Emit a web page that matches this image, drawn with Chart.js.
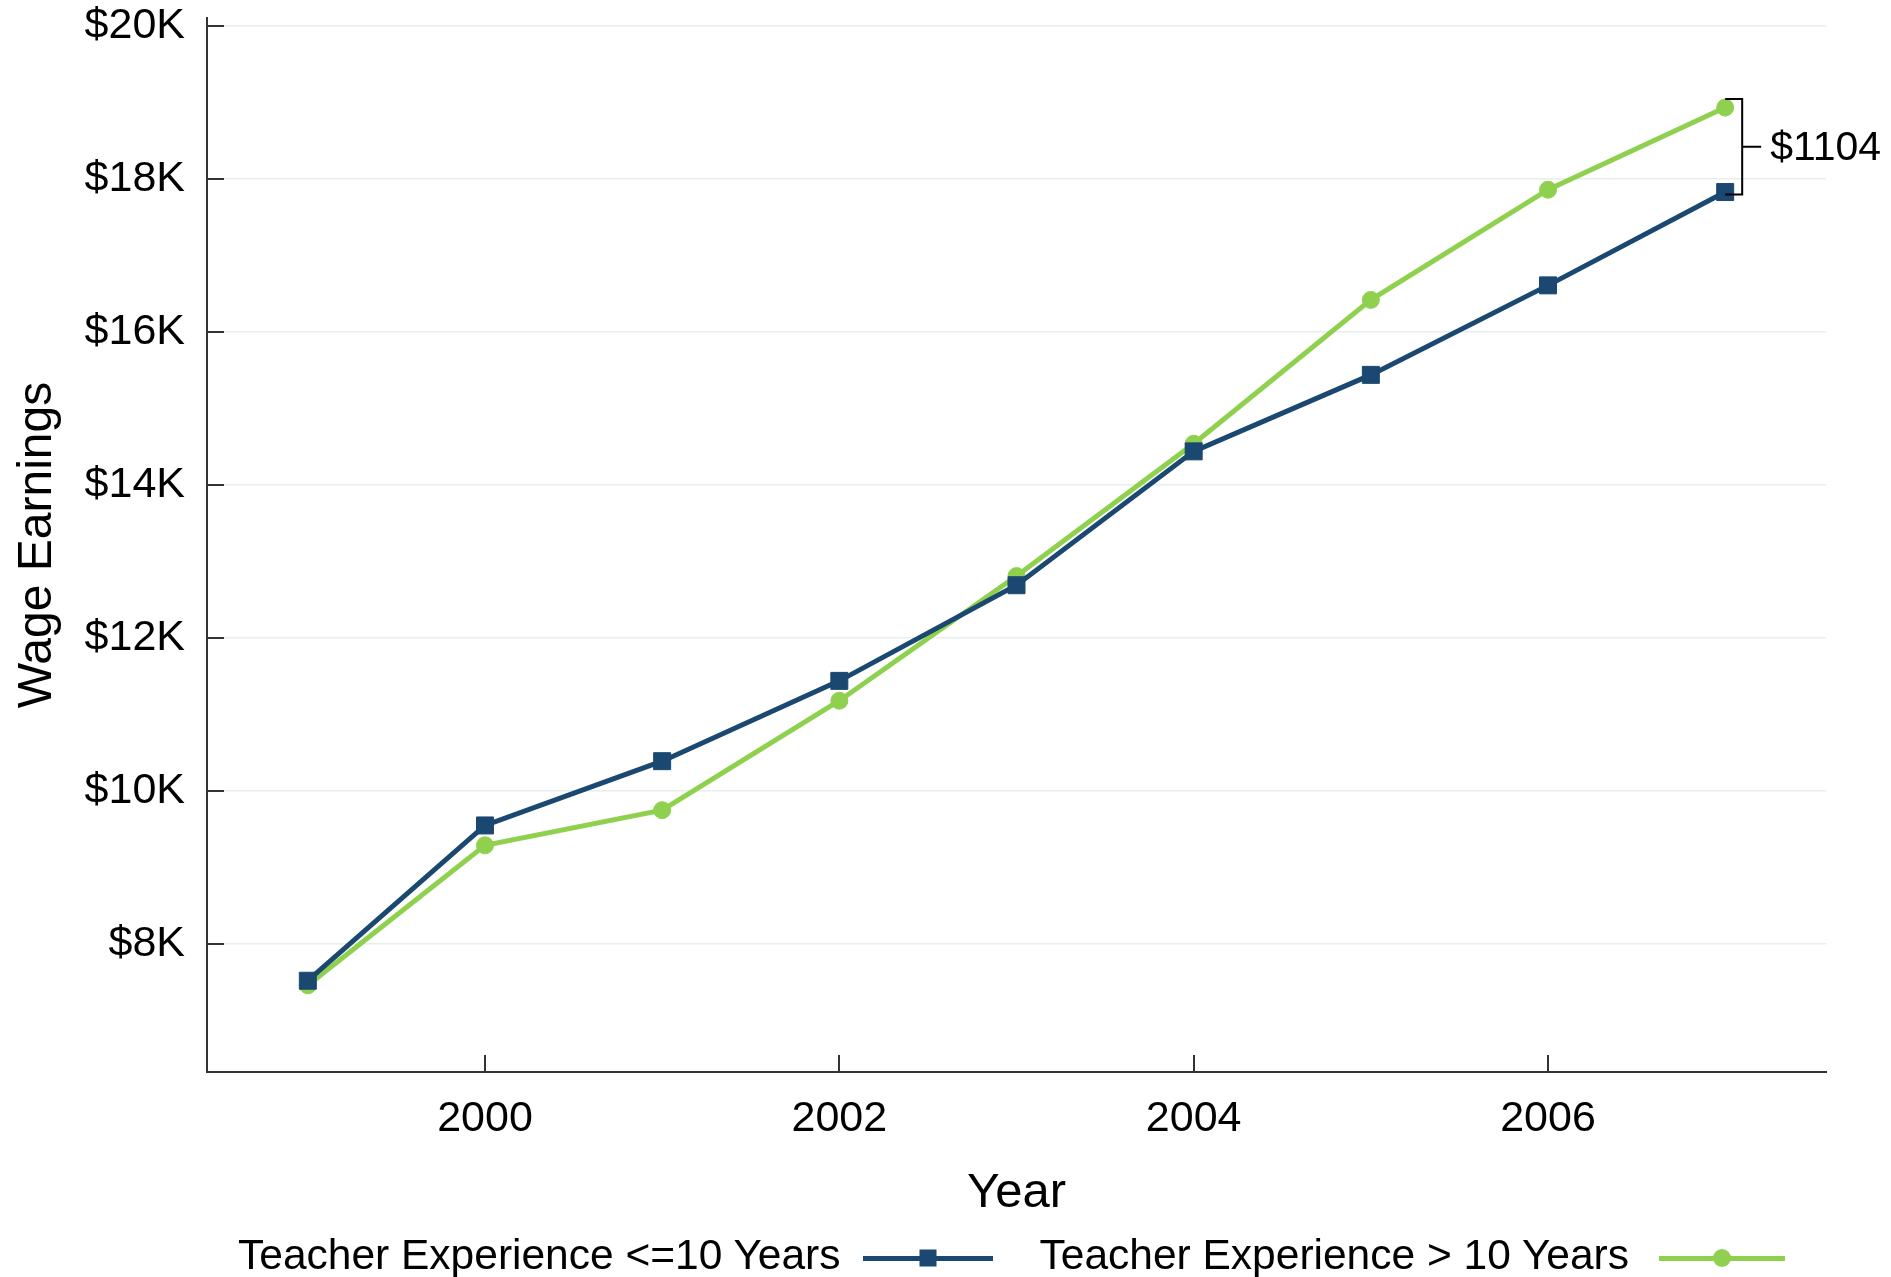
<!DOCTYPE html>
<html>
<head>
<meta charset="utf-8">
<script src="https://cdn.jsdelivr.net/npm/chart.js@4.4.1/dist/chart.umd.min.js"></script>
<style>
  body { margin: 0; background: #fff; }
  #wrap { position: relative; width: 1891px; height: 1277px; overflow: hidden; }
  .legend { position: absolute; left: 238px; top: 1231px; display: flex; align-items: center;
    font-family: "Liberation Sans", Arial, sans-serif; font-size: 42.5px; color: #000; white-space: nowrap; }
  .sample { position: relative; height: 5px; margin-top: 6px; }
  .mark { position: absolute; top: 50%; left: 50%; transform: translate(-50%, -50%); }
</style>
</head>
<body>
<div id="wrap">
  <canvas id="myChart" width="1891" height="1277"></canvas>
  <div class="legend" id="legend"></div>
</div>
<script>
const years = [1999, 2000, 2001, 2002, 2003, 2004, 2005, 2006, 2007];
// wage earnings in dollars
const lowExp = [7520, 9550, 10390, 11440, 12690, 14440, 15440, 16610, 17830];
const highExp = [7460, 9290, 9750, 11180, 12810, 14540, 16420, 17860, 18934];
const seriesNames = ['Teacher Experience <=10 Years', 'Teacher Experience > 10 Years'];
const yTicks = [8000, 10000, 12000, 14000, 16000, 18000, 20000];
const xTicks = [2000, 2002, 2004, 2006];

const blue = '#1b4870';
const green = '#8fd14f';
const font = '"Liberation Sans", Arial, sans-serif';

// little ticks pointing into the plot, plus the gap bracket at the last year
const extras = {
  id: 'extras',
  afterDraw(chart) {
    const ctx = chart.ctx;
    const x = chart.scales.x, y = chart.scales.y;
    ctx.save();
    ctx.strokeStyle = '#333';
    ctx.lineWidth = 2;
    ctx.beginPath();
    yTicks.forEach(v => {
      const py = Math.round(y.getPixelForValue(v));
      ctx.moveTo(x.left, py); ctx.lineTo(x.left + 17, py);
    });
    xTicks.forEach(v => {
      const px = Math.round(x.getPixelForValue(v));
      ctx.moveTo(px, y.bottom); ctx.lineTo(px, y.bottom - 17);
    });
    ctx.stroke();

    const last = years.length - 1;
    const px = x.getPixelForValue(years[last]);
    const top = y.getPixelForValue(highExp[last]) - 8.5;
    const bot = y.getPixelForValue(lowExp[last]) + 2.5;
    const bx = px + 17;
    ctx.strokeStyle = '#000';
    ctx.lineWidth = 2;
    ctx.beginPath();
    ctx.moveTo(px, top); ctx.lineTo(bx, top); ctx.lineTo(bx, bot); ctx.lineTo(px, bot);
    ctx.moveTo(bx, (top + bot) / 2); ctx.lineTo(bx + 19, (top + bot) / 2);
    ctx.stroke();
    ctx.fillStyle = '#000';
    ctx.font = '41px ' + font;
    ctx.textAlign = 'left';
    ctx.textBaseline = 'middle';
    ctx.fillText('$' + Math.round(highExp[last] - lowExp[last]), bx + 28, (top + bot) / 2 + 2);
    ctx.restore();
  }
};

const dataChart = {
  labels: years,
  datasets: [
    {
      label: seriesNames[0],
      data: years.map((yr, i) => ({x: yr, y: lowExp[i]})),
      borderColor: blue,
      backgroundColor: blue,
      borderWidth: 5,
      pointStyle: 'rect',
      pointRadius: 12,
      pointBorderWidth: 1,
    },
    {
      label: seriesNames[1],
      data: years.map((yr, i) => ({x: yr, y: highExp[i]})),
      borderColor: green,
      backgroundColor: green,
      borderWidth: 5,
      pointStyle: 'circle',
      pointRadius: 8.5,
      pointBorderWidth: 1,
    }
  ]
};

function noPad(s) {
  s.paddingTop = 0; s.paddingBottom = 0; s.paddingLeft = 0; s.paddingRight = 0;
}

const config = {
  type: 'line',
  data: dataChart,
  plugins: [extras],
  options: {
    responsive: false,
    animation: false,
    devicePixelRatio: 1,
    layout: { padding: { top: 18, right: 65, bottom: 59, left: 0 } },
    plugins: { legend: { display: false }, tooltip: { enabled: false } },
    scales: {
      x: {
        type: 'linear',
        min: 1998.431,
        max: 2007.569,
        afterBuildTicks: s => { s.ticks = xTicks.map(v => ({value: v})); },
        afterFit: s => { s.height = 146; noPad(s); },
        grid: { display: false, drawTicks: false },
        border: { color: '#333', width: 2 },
        ticks: { color: '#000', padding: 21, font: { family: font, size: 43 }, callback: v => String(v) },
        title: { display: true, text: 'Year', color: '#000', padding: { top: 0, bottom: 0 }, font: { family: font, size: 49, lineHeight: 1 } }
      },
      y: {
        min: 6327,
        max: 20105,
        afterBuildTicks: s => { s.ticks = yTicks.map(v => ({value: v})); },
        afterFit: s => { s.width = 207; noPad(s); },
        grid: { color: '#e8eeee', lineWidth: 1.5, drawTicks: false },
        border: { color: '#333', width: 2 },
        ticks: { color: '#000', padding: 22, font: { family: font, size: 43 }, callback: v => '$' + (v / 1000) + 'K' },
        title: { display: true, text: 'Wage Earnings', color: '#000', padding: { top: 14, bottom: 0 }, font: { family: font, size: 48, lineHeight: 1 } }
      }
    }
  }
};

const myChart = new Chart(document.getElementById('myChart'), config);

// legend: text first, then line sample with its marker
const legend = document.getElementById('legend');
const samples = [
  { color: blue, mark: '<div class="mark" style="width:17px;height:17px;background:' + blue + '"></div>', width: 130, gapBefore: 22, gapAfter: 47 },
  { color: green, mark: '<div class="mark" style="width:18px;height:18px;border-radius:50%;background:' + green + '"></div>', width: 126, gapBefore: 30, gapAfter: 0 }
];
seriesNames.forEach((name, i) => {
  const s = samples[i];
  legend.insertAdjacentHTML('beforeend',
    `<span>${name.replace('<', '&lt;')}</span>` +
    `<div class="sample" style="width:${s.width}px;margin-left:${s.gapBefore}px;margin-right:${s.gapAfter}px;background:${s.color}">${s.mark}</div>`);
});
</script>
</body>
</html>
